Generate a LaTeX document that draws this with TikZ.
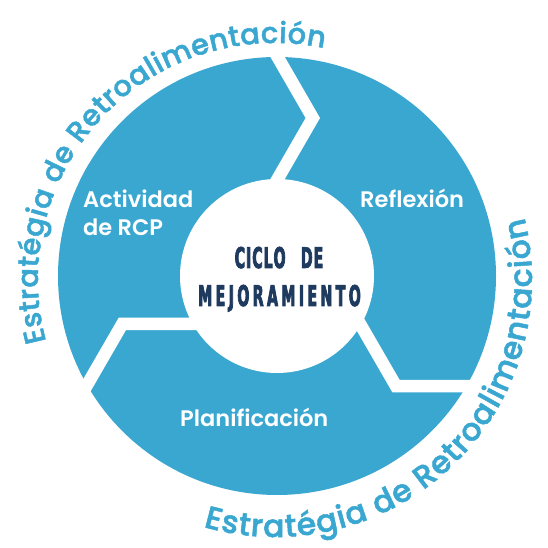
\documentclass[tikz,border=0pt]{standalone}
\usepackage{fontspec}
\usetikzlibrary{decorations.text}
\setmainfont{Poppins}
\IfFontExistsTF{Poppins SemiBold}{\newfontfamily\lblfont{Poppins SemiBold}}{\newfontfamily\lblfont{Poppins}[FakeBold=1.5]}
\IfFontExistsTF{Poppins Medium}{\newfontfamily\arcfont{Poppins Medium}[FakeBold=1.6]}{\newfontfamily\arcfont{Poppins}[FakeBold=2.6]}
\newfontfamily\ctrfont{DejaVu Sans Condensed Bold}[FakeStretch=0.55,FakeBold=2.6,LetterSpace=12]
\definecolor{segblue}{HTML}{3AA7D1}
\definecolor{navy}{HTML}{1F3A5F}
\newcommand\arcA{\arcfont\fontsize{29}{36}\selectfont}
\newcommand\arcB{\arcfont\fontsize{31.5}{40}\selectfont}
\tikzset{
  gapline/.style={draw=white, line width=12.5pt, miter limit=10},
  lbl/.style={inner sep=0pt, text=white, anchor=base west, font=\lblfont\fontsize{22.5}{26}\selectfont},
  ctr/.style={inner sep=0pt, text=navy, anchor=base, font=\ctrfont\fontsize{28.5}{32}\selectfont}
}
\begin{document}
\begin{tikzpicture}[x=1pt,y=1pt]
\useasboundingbox (0,0) rectangle (548,548);
\coordinate (C) at (277,272);
\coordinate (T) at (275,268);
\fill[segblue] (C) circle[radius=219];
\foreach \rot in {0,120,240}{
  \begin{scope}[shift={(C)},rotate=\rot]
    \draw[gapline] (-9.2,80) -- (35.8,158) -- (-1.7,223);
  \end{scope}
}
\fill[white] (C) circle[radius=97];
\node[lbl] (act) at (83,340) {Actividad};
\node[lbl] (rcp) at (83,312) {de RCP};
\node[lbl] (ref) at (360,340) {Reflexión};
\node[lbl] (pla) at (180,121) {Planificación};
\node[ctr] (c1) at (279,280) {C\kern1pt I\kern1pt C\kern1pt L\kern1pt O\hspace{7pt} D\kern1pt E};
\node[ctr] (c2) at (279.5,242) {MEJORAMIENTO};
\path[decorate, decoration={text along path, text align=fit to path, text color=segblue,
  text={|\arcA|Estratégia de Retroalimentación}}]
  ([shift={(T)}]195:237) arc[start angle=195, end angle=78, radius=237];
\path[decorate, decoration={text along path, text align=fit to path, text color=segblue,
  text={|\arcB|Estratégia de Retroalimentación}}]
  ([shift={(T)}]253.8:257) arc[start angle=253.8, end angle=374.1, radius=257];
\end{tikzpicture}
\end{document}
